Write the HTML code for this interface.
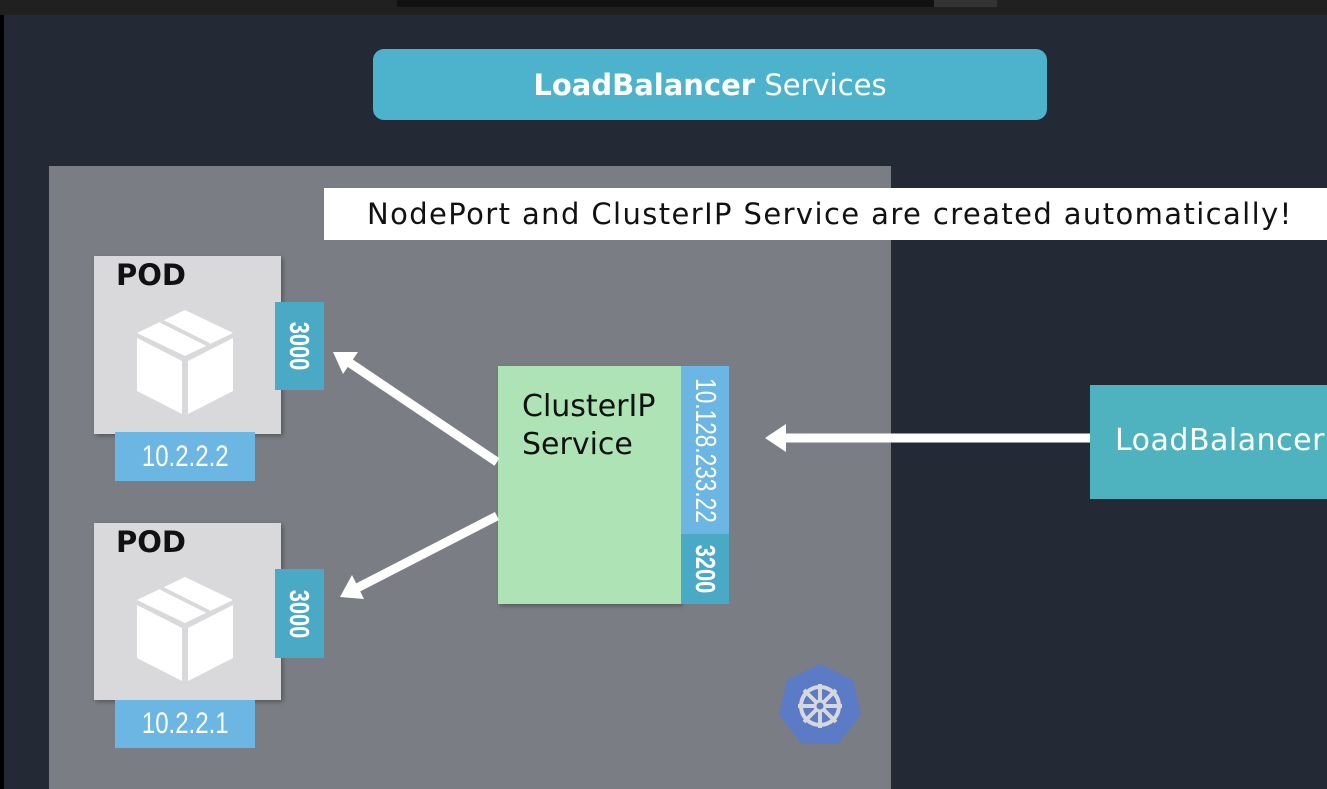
<!DOCTYPE html>
<html><head><meta charset="utf-8"><style>
body{margin:0;width:1327px;height:789px;overflow:hidden;background:#232a35;font-family:"DejaVu Sans","Liberation Sans",sans-serif;position:relative}
div{position:absolute;box-sizing:border-box}
.v{display:flex;align-items:center;justify-content:center;color:#fff;font-family:"Liberation Sans",sans-serif}
.rot{transform:rotate(90deg) scaleX(0.78);white-space:nowrap;display:inline-block}
.cn{transform:scaleX(0.8);display:inline-block}
</style></head><body>
<div style="left:0;top:0;width:1327px;height:15px;background:#202020"></div>
<div style="left:397px;top:0;width:537px;height:7px;background:#111"></div>
<div style="left:934px;top:0;width:63px;height:7px;background:#333"></div>
<div style="left:0;top:15px;width:4px;height:774px;background:#000"></div>
<div style="left:373px;top:49px;width:674px;height:71px;background:#4db3cc;border-radius:11px;color:#fff;font-size:29px;display:flex;align-items:center;justify-content:center"><b>LoadBalancer</b>&nbsp;Services</div>
<div style="left:49px;top:166px;width:842px;height:623px;background:#7a7d83"></div>
<div style="left:324px;top:188px;width:1003px;height:52px;background:#fff;color:#111;font-size:29px;letter-spacing:1.4px;padding-left:43px;line-height:52px;white-space:nowrap">NodePort and ClusterIP Service are created automatically!</div>

<div style="left:94px;top:256px;width:187px;height:178px;background:#d9d9dc;box-shadow:2px 2px 4px rgba(0,0,0,.3)"></div>
<div style="left:116px;top:258px;font-size:29px;font-weight:bold;color:#111">POD</div>
<svg style="position:absolute;left:135px;top:308px" width="100" height="108" viewBox="0 0 100 108"><polygon points="50,2 98,25 50,48 2,25" fill="#fff"/><polygon points="2,30 47,53 47,106 2,83" fill="#fff"/><polygon points="53,53 98,30 98,83 53,106" fill="#fff"/><line x1="26" y1="13" x2="74" y2="37" stroke="#d9d9dc" stroke-width="4"/></svg>
<div class="v" style="left:275px;top:302px;width:49px;height:88px;background:#4aaac6;font-size:28px;font-weight:bold"><span class="rot">3000</span></div>
<div class="v" style="left:115px;top:432px;width:140px;height:49px;background:#6cb6e3;font-size:30px"><span class="cn">10.2.2.2</span></div>

<div style="left:94px;top:523px;width:187px;height:177px;background:#d9d9dc;box-shadow:2px 2px 4px rgba(0,0,0,.3)"></div>
<div style="left:116px;top:525px;font-size:29px;font-weight:bold;color:#111">POD</div>
<svg style="position:absolute;left:135px;top:575px" width="100" height="108" viewBox="0 0 100 108"><polygon points="50,2 98,25 50,48 2,25" fill="#fff"/><polygon points="2,30 47,53 47,106 2,83" fill="#fff"/><polygon points="53,53 98,30 98,83 53,106" fill="#fff"/><line x1="26" y1="13" x2="74" y2="37" stroke="#d9d9dc" stroke-width="4"/></svg>
<div class="v" style="left:275px;top:569px;width:49px;height:89px;background:#4aaac6;font-size:28px;font-weight:bold"><span class="rot">3000</span></div>
<div class="v" style="left:115px;top:700px;width:140px;height:48px;background:#6cb6e3;font-size:30px"><span class="cn">10.2.2.1</span></div>

<div style="left:498px;top:366px;width:183px;height:238px;background:#ade3b5;box-shadow:2px 2px 4px rgba(0,0,0,.3);padding:22px 0 0 24px;font-size:30px;color:#111;line-height:38px">ClusterIP<br>Service</div>
<div class="v" style="left:681px;top:366px;width:48px;height:168px;background:#6cb6e3;font-size:29px"><span class="rot">10.128.233.22</span></div>
<div class="v" style="left:681px;top:534px;width:48px;height:70px;background:#4aaac6;font-size:28px;font-weight:bold"><span class="rot">3200</span></div>

<div style="left:1090px;top:385px;width:237px;height:114px;background:#4fb3bf;color:#fff;font-size:30px;letter-spacing:0.5px;line-height:112px;padding-left:25px;white-space:nowrap;overflow:hidden">LoadBalancer</div>

<svg style="position:absolute;left:0;top:0" width="1327" height="789">
<g stroke="#fff" stroke-width="9" fill="#fff">
<line x1="1090" y1="438" x2="785" y2="438"/>
<polygon points="765,438 786,424 786,452" stroke="none"/>
<line x1="497" y1="462" x2="350" y2="363"/>
<polygon points="333,352 358,352 343,374" stroke="none"/>
<line x1="497" y1="516" x2="357" y2="588"/>
<polygon points="340,597 352,575 364,599" stroke="none"/>
</g>
<polygon points="820,664 853,680 861,715 838,744 802,744 779,715 787,680" fill="#5b7bc7"/>
<g stroke="#d8d8dc" stroke-width="4" fill="none"><circle cx="820" cy="706" r="19"/>
<line x1="820" y1="684" x2="820" y2="728"/><line x1="798" y1="706" x2="842" y2="706"/><line x1="804" y1="690" x2="836" y2="722"/><line x1="836" y1="690" x2="804" y2="722"/></g>
<circle cx="820" cy="706" r="5" fill="#5b7bc7" stroke="#d8d8dc" stroke-width="3"/>
</svg>
</body></html>
